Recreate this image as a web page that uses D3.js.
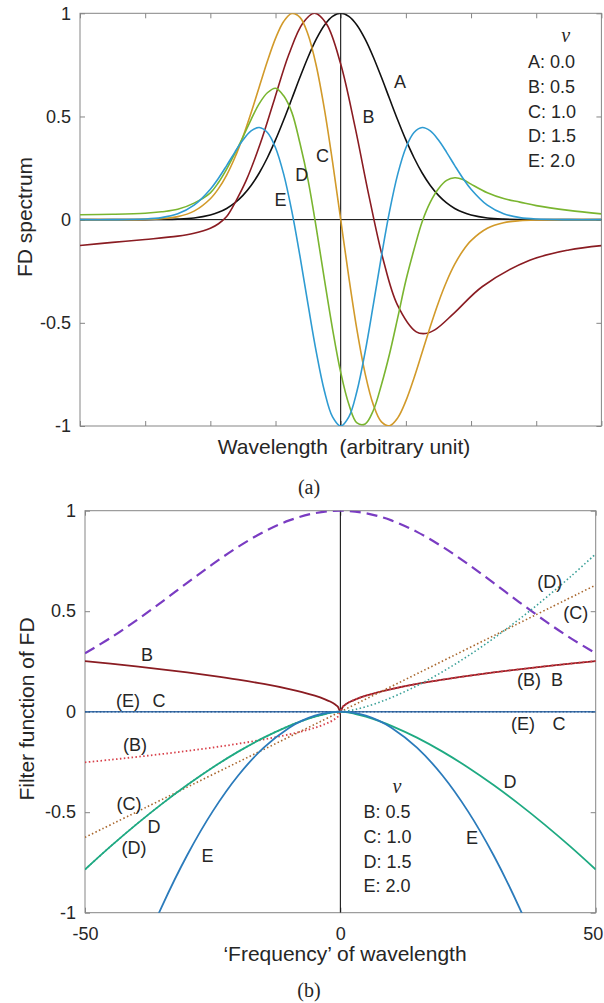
<!DOCTYPE html>
<html><head><meta charset="utf-8">
<script src="https://cdn.jsdelivr.net/npm/d3@7"></script>
<style>
body{margin:0;background:#fff}
svg{display:block}
text{font-family:"Liberation Sans",Arial,Helvetica,sans-serif;fill:#262626}
</style>
</head><body>
<svg id="c" width="604" height="1003"></svg>
<script>
// ================= DATA =================
// Panel (a): FD spectra, wavelength in arbitrary units (tick every 1 unit)
const nuNames = ["A","B","C","D","E"];
const nuValues = [0.0, 0.5, 1.0, 1.5, 2.0];

const gridX = [-4,-3.5,-3,-2.75,-2.5,-2.25,-2,-1.875,-1.75,-1.625,-1.5,-1.375,-1.25,-1.125,-1,-0.875,-0.75,-0.625,-0.5,-0.375,-0.25,-0.125,
  0,0.125,0.25,0.375,0.5,0.625,0.75,0.875,1,1.125,1.25,1.375,1.5,1.625,1.75,1.875,2,2.25,2.5,2.75,3,3.5,4];

const specA = [0,0,0.0002,0.0008,0.0026,0.0081,0.0223,0.0353,0.0543,0.0811,0.1176,0.1656,0.2262,0.3000,0.3863,0.4827,0.5856,0.6897,0.7884,0.8748,0.9423,0.9852,
  1,0.9852,0.9423,0.8748,0.7884,0.6897,0.5856,0.4827,0.3863,0.3000,0.2262,0.1656,0.1176,0.0811,0.0543,0.0353,0.0223,0.0081,0.0026,0.0008,0.0002,0,0];

const specC = [0,0,0.0014,0.005,0.0148,0.0414,0.1014,0.1505,0.2161,0.2997,0.4011,0.5178,0.6430,0.7675,0.8785,0.9605,0.9988,0.9803,0.8964,0.7460,0.5357,0.2800,
  0,-0.2800,-0.5357,-0.7460,-0.8964,-0.9803,-0.9988,-0.9605,-0.8785,-0.7675,-0.6430,-0.5178,-0.4011,-0.2997,-0.2161,-0.1505,-0.1014,-0.0414,-0.0148,-0.005,-0.0014,0,0];

const specD = [0.024,0.026,0.031,0.038,0.05,0.08,0.13,0.18,0.245,0.32,0.40,0.485,0.562,0.615,0.637,0.60,0.52,0.37,0.19,-0.04,-0.29,-0.53,
  -0.74,-0.895,-0.985,-0.99,-0.925,-0.80,-0.65,-0.475,-0.295,-0.145,-0.01,0.085,0.15,0.19,0.203,0.195,0.172,0.13,0.102,0.085,0.068,0.045,0.028];

const specE = [0,0.0001,0.0031,0.0100,0.0283,0.0699,0.1474,0.2008,0.2621,0.3263,0.3858,0.4300,0.4462,0.4224,0.3486,0.2204,0.0411,-0.1771,-0.4134,-0.6408,-0.8303,-0.9559,
  -1,-0.9559,-0.8303,-0.6408,-0.4134,-0.1771,0.0411,0.2204,0.3486,0.4224,0.4462,0.4300,0.3858,0.3263,0.2621,0.2008,0.1474,0.0699,0.0283,0.0100,0.0031,0.0001,0];

const specBX = [-4,-3.5,-3,-2.5,-2.25,-2,-1.875,-1.75,-1.6,-1.45,-1.2325,-1.015,-0.7975,-0.58,-0.4,-0.2175,0,0.2175,0.435,0.6525,0.87,1.16,1.3,1.45,1.74,2.175,2.9,3.5,4];
const specB  = [-0.125,-0.110,-0.096,-0.080,-0.066,-0.042,-0.020,0.015,0.095,0.19,0.37,0.585,0.799,0.953,1.0,0.948,0.754,0.453,0.113,-0.194,-0.413,-0.544,-0.552,-0.533,-0.453,-0.324,-0.197,-0.147,-0.126];

const ticksAx = [-4,-3,-2,-1,0,1,2,3,4];
const ticksAy = [-1,-0.5,0,0.5,1];

// Panel (b): filter functions vs 'frequency'
const freqW = [-50,-45,-40,-35,-30,-25,-20,-15,-10,-7.5,-5,-3,-2,-1,-0.5,0,0.5,1,2,3,5,7.5,10,15,20,25,30,35,40,45,50];
const filtB  = [0.252,0.2391,0.2254,0.2108,0.1952,0.1782,0.1594,0.1380,0.1127,0.0976,0.0797,0.0617,0.0504,0.0356,0.0252,0,
  0.0252,0.0356,0.0504,0.0617,0.0797,0.0976,0.1127,0.1380,0.1594,0.1782,0.1952,0.2108,0.2254,0.2391,0.252];
const filtBi = [-0.252,-0.2391,-0.2254,-0.2108,-0.1952,-0.1782,-0.1594,-0.1380,-0.1127,-0.0976,-0.0797,-0.0617,-0.0504,-0.0356,-0.0252,0,
  0.0252,0.0356,0.0504,0.0617,0.0797,0.0976,0.1127,0.1380,0.1594,0.1782,0.1952,0.2108,0.2254,0.2391,0.252];
const filtD  = [-0.785,-0.6702,-0.5617,-0.4598,-0.3649,-0.2775,-0.1986,-0.1290,-0.0702,-0.0456,-0.0248,-0.0115,-0.0063,-0.0022,-0.0008,0,
  -0.0008,-0.0022,-0.0063,-0.0115,-0.0248,-0.0456,-0.0702,-0.1290,-0.1986,-0.2775,-0.3649,-0.4598,-0.5617,-0.6702,-0.785];
const filtDi = [-0.785,-0.6702,-0.5617,-0.4598,-0.3649,-0.2775,-0.1986,-0.1290,-0.0702,-0.0456,-0.0248,-0.0115,-0.0063,-0.0022,-0.0008,0,
  0.0008,0.0022,0.0063,0.0115,0.0248,0.0456,0.0702,0.1290,0.1986,0.2775,0.3649,0.4598,0.5617,0.6702,0.785];
const filtE  = [-1.984,-1.607,-1.2696,-0.972,-0.7141,-0.4959,-0.3174,-0.1785,-0.0794,-0.0446,-0.0198,-0.0071,-0.0032,-0.0008,-0.0002,0,
  -0.0002,-0.0008,-0.0032,-0.0071,-0.0198,-0.0446,-0.0794,-0.1785,-0.3174,-0.4959,-0.7141,-0.972,-1.2696,-1.607,-1.984];

const gaussW = [-50,-45,-40,-35,-30,-25,-20,-15,-10,-5,0,5,10,15,20,25,30,35,40,45,50];
const filtGauss = [0.2904,0.3673,0.4533,0.5456,0.6407,0.7341,0.8205,0.8947,0.9517,0.9877,1,0.9877,0.9517,0.8947,0.8205,0.7341,0.6407,0.5456,0.4533,0.3673,0.2904];

const lineW = [-50,0,50];
const filtCi = [-0.625,0,0.63];
const filtC  = [0,0,0];
const filtEi = [0,0,0];

const ticksBx = [-50,0,50];
const ticksBy = [-1,-0.5,0,0.5,1];
const nuNamesB = ["B","C","D","E"];
const nuValuesB = [0.5,1.0,1.5,2.0];

// curve labels [text, x, y] in data units
const labelsA = [["A",0.91,0.668],["B",0.427,0.501],["C",-0.279,0.311],["D",-0.599,0.216],["E",-0.924,0.095]];
const labelsB = [["B",-37.85,0.282],["(E)",-41.57,0.055],["C",-35.5,0.055],["(D)",41.0,0.647],["(C)",46.1,0.491],
  ["(B)",36.95,0.158],["B",42.43,0.158],["(E)",35.78,-0.061],["C",42.82,-0.061],["D",33.23,-0.348],
  ["(B)",-40.2,-0.166],["(C)",-41.37,-0.459],["D",-36.48,-0.572],["(D)",-40.4,-0.678],["E",-26.0,-0.718],["E",25.79,-0.628]];

// ================= DRAW =================
const svg = d3.select("#c");
const FRAME = "#858585";
const plain = d => String(d);   // hyphen-minus like the original

function path(g, xs, ys, x, y, col, w, dash, cap) {
  const pts = xs.map((v,i)=>[v, ys[i]]);
  g.append("path").datum(pts)
    .attr("d", d3.line().x(d=>x(d[0])).y(d=>y(d[1])).curve(d3.curveCatmullRom.alpha(0.5)))
    .attr("fill","none").attr("stroke",col).attr("stroke-width",w)
    .attr("stroke-dasharray",dash||null).attr("stroke-linecap",cap||"butt")
    .attr("stroke-linejoin","round");
}

function frame(x, y, xt, yt, xLabels, clipId, padB) {
  const [x0,x1] = x.range(), [y0,y1] = y.range();
  const styleAxis = g => {
    g.select(".domain").remove();
    g.selectAll(".tick line").attr("stroke",FRAME);
    g.selectAll(".tick text").attr("font-size",18).attr("font-family",'"Liberation Sans",Arial,sans-serif').attr("fill","#262626");
  };
  svg.append("g").attr("transform",`translate(${x0},0)`)
    .call(d3.axisLeft(y).tickValues(yt).tickSize(-5).tickPadding(9).tickFormat(plain))
    .call(styleAxis);
  svg.append("g").attr("transform",`translate(${x1},0)`)
    .call(d3.axisRight(y).tickValues(yt).tickSize(-5).tickFormat(""))
    .call(styleAxis);
  svg.append("g").attr("transform",`translate(0,${y1})`)
    .call(d3.axisTop(x).tickValues(xt).tickSize(-5).tickFormat(""))
    .call(styleAxis);
  const gb = svg.append("g").attr("transform",`translate(0,${y0})`)
    .call(d3.axisBottom(x).tickValues(xt).tickSize(-5).tickPadding(padB)
      .tickFormat(xLabels ? plain : ""))
    .call(styleAxis);
  // keep the last label inside the picture, as in the original
  gb.selectAll(".tick text").filter((d,i,n)=> i === n.length-1).attr("dx",-3);
  svg.append("rect").attr("x",x0).attr("y",y1).attr("width",x1-x0).attr("height",y0-y1)
    .attr("fill","none").attr("stroke",FRAME).attr("stroke-width",1);
  svg.append("clipPath").attr("id",clipId).append("rect")
    .attr("x",x0).attr("y",y1).attr("width",x1-x0).attr("height",y0-y1);
}

// ---------- Panel (a) ----------
const xA = d3.scaleLinear().domain([-4,4]).range([80,601.4]);
const yA = d3.scaleLinear().domain([-1,1]).range([426,13.3]);
frame(xA, yA, ticksAx, ticksAy, false, "clipA", 10);
const gA = svg.append("g").attr("clip-path","url(#clipA)");
gA.append("line").attr("x1",xA(-4)).attr("x2",xA(4)).attr("y1",yA(0)).attr("y2",yA(0)).attr("stroke","#000").attr("stroke-width",1);
gA.append("line").attr("x1",xA(0)).attr("x2",xA(0)).attr("y1",yA(-1)).attr("y2",yA(1)).attr("stroke","#000").attr("stroke-width",1);
const colA = {A:"#111111", B:"#8a1c22", C:"#d29a2a", D:"#7ab530", E:"#2e9bd2"};
path(gA, gridX, specA, xA, yA, colA.A, 1.6);
path(gA, specBX, specB, xA, yA, colA.B, 1.6);
path(gA, gridX, specC, xA, yA, colA.C, 1.6);
path(gA, gridX, specD, xA, yA, colA.D, 1.6);
path(gA, gridX, specE, xA, yA, colA.E, 1.6);

labelsA.forEach(([t,lx,ly]) => svg.append("text").attr("x",xA(lx)).attr("y",yA(ly)).attr("dy","0.35em")
  .attr("text-anchor","middle").attr("font-size",18).text(t));

svg.append("text").attr("x",565.7).attr("y",41.7).attr("text-anchor","middle")
  .style("font-family",'"Liberation Serif","Times New Roman",serif').style("font-style","italic").attr("font-size",20).text("ν");
nuNames.forEach((n,i) => svg.append("text").attr("x",528).attr("y",68.3+24.6*i).attr("font-size",18)
  .text(`${n}: ${nuValues[i].toFixed(1)}`));

svg.append("text").attr("x",344).attr("y",454).attr("text-anchor","middle").attr("font-size",21)
  .attr("xml:space","preserve").style("white-space","pre").text("Wavelength  (arbitrary unit)");
svg.append("text").attr("transform","translate(32,217) rotate(-90)").attr("text-anchor","middle").attr("font-size",21).text("FD spectrum");
svg.append("text").attr("x",309).attr("y",494).attr("text-anchor","middle").attr("font-size",20)
  .style("font-family",'"Liberation Serif","Times New Roman",serif').text("(a)");

// ---------- Panel (b) ----------
const xB = d3.scaleLinear().domain([-50,50]).range([85,595.7]);
const yB = d3.scaleLinear().domain([-1,1]).range([912.7,510.7]);
frame(xB, yB, ticksBx, ticksBy, true, "clipB", 14.5);
const gB = svg.append("g").attr("clip-path","url(#clipB)");
gB.append("line").attr("x1",xB(0)).attr("x2",xB(0)).attr("y1",yB(-1)).attr("y2",yB(1)).attr("stroke","#000").attr("stroke-width",1);
path(gB, gaussW, filtGauss, xB, yB, "#7a3cc2", 2.2, "11,6");
path(gB, lineW, filtC, xB, yB, "#3f74b0", 1.6);
path(gB, lineW, filtEi, xB, yB, "#2a5a90", 1.6, "1.5,2.2");
path(gB, freqW, filtB, xB, yB, "#8a1c22", 1.8);
path(gB, freqW, filtBi, xB, yB, "#d8404a", 1.8, "1.5,2.4");
path(gB, lineW, filtCi, xB, yB, "#a8662c", 1.6, "1.5,2.4");
path(gB, freqW, filtDi, xB, yB, "#3aa098", 1.6, "1.5,2.4");
path(gB, freqW, filtD, xB, yB, "#1faa82", 1.8);
path(gB, freqW, filtE, xB, yB, "#2b7bbb", 1.8);

labelsB.forEach(([t,lx,ly]) => svg.append("text").attr("x",xB(lx)).attr("y",yB(ly)).attr("dy","0.35em")
  .attr("text-anchor","middle").attr("font-size",18).text(t));

svg.append("text").attr("x",397).attr("y",793).attr("text-anchor","middle")
  .style("font-family",'"Liberation Serif","Times New Roman",serif').style("font-style","italic").attr("font-size",20).text("ν");
nuNamesB.forEach((n,i) => svg.append("text").attr("x",363.5).attr("y",818.3+24.7*i).attr("font-size",18)
  .text(`${n}: ${nuValuesB[i].toFixed(1)}`));

svg.append("text").attr("x",345).attr("y",961).attr("text-anchor","middle").attr("font-size",21).text("\u2018Frequency\u2019 of wavelength");
svg.append("text").attr("transform","translate(34,709) rotate(-90)").attr("text-anchor","middle").attr("font-size",21).text("Filter function of FD");
svg.append("text").attr("x",309).attr("y",997).attr("text-anchor","middle").attr("font-size",20)
  .style("font-family",'"Liberation Serif","Times New Roman",serif').text("(b)");
</script>
</body></html>
